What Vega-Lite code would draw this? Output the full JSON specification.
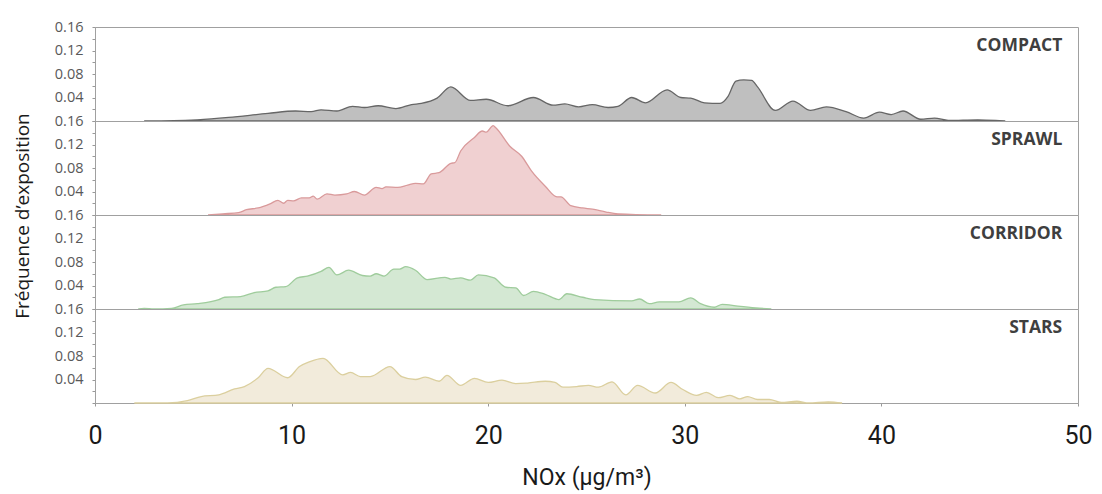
{
  "$schema": "https://vega.github.io/schema/vega-lite/v6.json",
  "padding": {"left": 13, "top": 19, "right": 5, "bottom": 5},
  "bounds": "flush",
  "background": "white",
  "datasets": {
    "d": [
      {"type":"COMPACT","nox":2.5,"freq":0},{"type":"COMPACT","nox":4.0,"freq":0.0005},{"type":"COMPACT","nox":5.2,"freq":0.002},{"type":"COMPACT","nox":6.8,"freq":0.006},{"type":"COMPACT","nox":8.8,"freq":0.013},{"type":"COMPACT","nox":10.2,"freq":0.017},{"type":"COMPACT","nox":11.0,"freq":0.016},{"type":"COMPACT","nox":11.5,"freq":0.019},{"type":"COMPACT","nox":12.3,"freq":0.017},{"type":"COMPACT","nox":13.1,"freq":0.025},{"type":"COMPACT","nox":13.7,"freq":0.023},{"type":"COMPACT","nox":14.4,"freq":0.026},{"type":"COMPACT","nox":15.3,"freq":0.021},{"type":"COMPACT","nox":16.1,"freq":0.028},{"type":"COMPACT","nox":16.6,"freq":0.030},{"type":"COMPACT","nox":17.4,"freq":0.039},{"type":"COMPACT","nox":18.1,"freq":0.058},{"type":"COMPACT","nox":19.1,"freq":0.035},{"type":"COMPACT","nox":19.9,"freq":0.037},{"type":"COMPACT","nox":21.0,"freq":0.026},{"type":"COMPACT","nox":22.3,"freq":0.040},{"type":"COMPACT","nox":23.3,"freq":0.027},{"type":"COMPACT","nox":23.9,"freq":0.029},{"type":"COMPACT","nox":24.6,"freq":0.024},{"type":"COMPACT","nox":25.3,"freq":0.028},{"type":"COMPACT","nox":26.1,"freq":0.023},{"type":"COMPACT","nox":26.6,"freq":0.025},{"type":"COMPACT","nox":27.3,"freq":0.040},{"type":"COMPACT","nox":28.0,"freq":0.031},{"type":"COMPACT","nox":29.1,"freq":0.053},{"type":"COMPACT","nox":29.8,"freq":0.040},{"type":"COMPACT","nox":30.3,"freq":0.039},{"type":"COMPACT","nox":31.0,"freq":0.031},{"type":"COMPACT","nox":31.8,"freq":0.030},{"type":"COMPACT","nox":32.2,"freq":0.042},{"type":"COMPACT","nox":32.6,"freq":0.068},{"type":"COMPACT","nox":33.0,"freq":0.070},{"type":"COMPACT","nox":33.4,"freq":0.069},{"type":"COMPACT","nox":33.7,"freq":0.058},{"type":"COMPACT","nox":34.6,"freq":0.018},{"type":"COMPACT","nox":35.5,"freq":0.034},{"type":"COMPACT","nox":36.4,"freq":0.018},{"type":"COMPACT","nox":37.2,"freq":0.024},{"type":"COMPACT","nox":38.2,"freq":0.016},{"type":"COMPACT","nox":39.1,"freq":0.005},{"type":"COMPACT","nox":39.9,"freq":0.015},{"type":"COMPACT","nox":40.5,"freq":0.011},{"type":"COMPACT","nox":41.1,"freq":0.017},{"type":"COMPACT","nox":42.0,"freq":0.003},{"type":"COMPACT","nox":42.7,"freq":0.005},{"type":"COMPACT","nox":43.4,"freq":0.001},{"type":"COMPACT","nox":44.9,"freq":0.002},{"type":"COMPACT","nox":45.8,"freq":0.001},{"type":"COMPACT","nox":46.3,"freq":0},
      {"type":"SPRAWL","nox":5.75,"freq":0},{"type":"SPRAWL","nox":6.5,"freq":0.002},{"type":"SPRAWL","nox":7.3,"freq":0.004},{"type":"SPRAWL","nox":7.7,"freq":0.009},{"type":"SPRAWL","nox":8.3,"freq":0.012},{"type":"SPRAWL","nox":8.9,"freq":0.019},{"type":"SPRAWL","nox":9.3,"freq":0.025},{"type":"SPRAWL","nox":9.6,"freq":0.020},{"type":"SPRAWL","nox":9.8,"freq":0.025},{"type":"SPRAWL","nox":10.1,"freq":0.024},{"type":"SPRAWL","nox":10.5,"freq":0.029},{"type":"SPRAWL","nox":10.9,"freq":0.029},{"type":"SPRAWL","nox":11.1,"freq":0.032},{"type":"SPRAWL","nox":11.3,"freq":0.027},{"type":"SPRAWL","nox":11.8,"freq":0.036},{"type":"SPRAWL","nox":12.2,"freq":0.034},{"type":"SPRAWL","nox":12.8,"freq":0.036},{"type":"SPRAWL","nox":13.2,"freq":0.040},{"type":"SPRAWL","nox":13.7,"freq":0.034},{"type":"SPRAWL","nox":14.3,"freq":0.047},{"type":"SPRAWL","nox":14.6,"freq":0.045},{"type":"SPRAWL","nox":14.8,"freq":0.048},{"type":"SPRAWL","nox":15.4,"freq":0.047},{"type":"SPRAWL","nox":15.9,"freq":0.051},{"type":"SPRAWL","nox":16.3,"freq":0.054},{"type":"SPRAWL","nox":16.7,"freq":0.053},{"type":"SPRAWL","nox":17.1,"freq":0.070},{"type":"SPRAWL","nox":17.5,"freq":0.072},{"type":"SPRAWL","nox":18.1,"freq":0.088},{"type":"SPRAWL","nox":18.3,"freq":0.089},{"type":"SPRAWL","nox":18.6,"freq":0.109},{"type":"SPRAWL","nox":19.3,"freq":0.132},{"type":"SPRAWL","nox":19.7,"freq":0.143},{"type":"SPRAWL","nox":19.9,"freq":0.141},{"type":"SPRAWL","nox":20.25,"freq":0.152},{"type":"SPRAWL","nox":20.4,"freq":0.148},{"type":"SPRAWL","nox":21.1,"freq":0.117},{"type":"SPRAWL","nox":21.7,"freq":0.100},{"type":"SPRAWL","nox":22.2,"freq":0.075},{"type":"SPRAWL","nox":22.9,"freq":0.049},{"type":"SPRAWL","nox":23.5,"freq":0.031},{"type":"SPRAWL","nox":23.7,"freq":0.031},{"type":"SPRAWL","nox":24.2,"freq":0.016},{"type":"SPRAWL","nox":24.8,"freq":0.012},{"type":"SPRAWL","nox":25.3,"freq":0.010},{"type":"SPRAWL","nox":26.0,"freq":0.005},{"type":"SPRAWL","nox":26.6,"freq":0.002},{"type":"SPRAWL","nox":28.8,"freq":0},
      {"type":"CORRIDOR","nox":2.2,"freq":0},{"type":"CORRIDOR","nox":2.5,"freq":0.001},{"type":"CORRIDOR","nox":3.0,"freq":0},{"type":"CORRIDOR","nox":3.9,"freq":0.001},{"type":"CORRIDOR","nox":4.5,"freq":0.007},{"type":"CORRIDOR","nox":5.2,"freq":0.009},{"type":"CORRIDOR","nox":6.3,"freq":0.016},{"type":"CORRIDOR","nox":6.6,"freq":0.020},{"type":"CORRIDOR","nox":7.4,"freq":0.021},{"type":"CORRIDOR","nox":8.1,"freq":0.028},{"type":"CORRIDOR","nox":8.8,"freq":0.031},{"type":"CORRIDOR","nox":9.2,"freq":0.037},{"type":"CORRIDOR","nox":9.7,"freq":0.038},{"type":"CORRIDOR","nox":10.3,"freq":0.053},{"type":"CORRIDOR","nox":10.8,"freq":0.056},{"type":"CORRIDOR","nox":11.5,"freq":0.064},{"type":"CORRIDOR","nox":11.9,"freq":0.071},{"type":"CORRIDOR","nox":12.3,"freq":0.058},{"type":"CORRIDOR","nox":12.9,"freq":0.066},{"type":"CORRIDOR","nox":13.6,"freq":0.057},{"type":"CORRIDOR","nox":14.0,"freq":0.056},{"type":"CORRIDOR","nox":14.3,"freq":0.060},{"type":"CORRIDOR","nox":14.7,"freq":0.056},{"type":"CORRIDOR","nox":15.2,"freq":0.068},{"type":"CORRIDOR","nox":15.5,"freq":0.068},{"type":"CORRIDOR","nox":15.8,"freq":0.072},{"type":"CORRIDOR","nox":16.3,"freq":0.066},{"type":"CORRIDOR","nox":16.9,"freq":0.050},{"type":"CORRIDOR","nox":17.8,"freq":0.054},{"type":"CORRIDOR","nox":18.1,"freq":0.051},{"type":"CORRIDOR","nox":18.6,"freq":0.053},{"type":"CORRIDOR","nox":19.1,"freq":0.049},{"type":"CORRIDOR","nox":19.5,"freq":0.058},{"type":"CORRIDOR","nox":20.3,"freq":0.053},{"type":"CORRIDOR","nox":20.9,"freq":0.037},{"type":"CORRIDOR","nox":21.4,"freq":0.036},{"type":"CORRIDOR","nox":21.8,"freq":0.023},{"type":"CORRIDOR","nox":22.3,"freq":0.030},{"type":"CORRIDOR","nox":22.9,"freq":0.025},{"type":"CORRIDOR","nox":23.6,"freq":0.016},{"type":"CORRIDOR","nox":24.0,"freq":0.026},{"type":"CORRIDOR","nox":24.8,"freq":0.020},{"type":"CORRIDOR","nox":25.4,"freq":0.016},{"type":"CORRIDOR","nox":27.3,"freq":0.014},{"type":"CORRIDOR","nox":27.7,"freq":0.017},{"type":"CORRIDOR","nox":28.2,"freq":0.009},{"type":"CORRIDOR","nox":28.7,"freq":0.012},{"type":"CORRIDOR","nox":29.7,"freq":0.012},{"type":"CORRIDOR","nox":30.3,"freq":0.019},{"type":"CORRIDOR","nox":30.8,"freq":0.009},{"type":"CORRIDOR","nox":31.5,"freq":0.003},{"type":"CORRIDOR","nox":31.9,"freq":0.008},{"type":"CORRIDOR","nox":32.7,"freq":0.005},{"type":"CORRIDOR","nox":33.6,"freq":0.002},{"type":"CORRIDOR","nox":34.4,"freq":0},
      {"type":"STARS","nox":2.0,"freq":0},{"type":"STARS","nox":3.7,"freq":0},{"type":"STARS","nox":4.7,"freq":0.004},{"type":"STARS","nox":5.4,"freq":0.011},{"type":"STARS","nox":6.3,"freq":0.014},{"type":"STARS","nox":7.1,"freq":0.024},{"type":"STARS","nox":7.6,"freq":0.028},{"type":"STARS","nox":8.3,"freq":0.043},{"type":"STARS","nox":8.8,"freq":0.059},{"type":"STARS","nox":9.8,"freq":0.043},{"type":"STARS","nox":10.4,"freq":0.062},{"type":"STARS","nox":10.9,"freq":0.070},{"type":"STARS","nox":11.6,"freq":0.076},{"type":"STARS","nox":12.6,"freq":0.048},{"type":"STARS","nox":13.0,"freq":0.052},{"type":"STARS","nox":13.5,"freq":0.045},{"type":"STARS","nox":14.0,"freq":0.045},{"type":"STARS","nox":15.0,"freq":0.062},{"type":"STARS","nox":15.6,"freq":0.045},{"type":"STARS","nox":16.3,"freq":0.040},{"type":"STARS","nox":16.8,"freq":0.044},{"type":"STARS","nox":17.5,"freq":0.037},{"type":"STARS","nox":17.9,"freq":0.047},{"type":"STARS","nox":18.6,"freq":0.030},{"type":"STARS","nox":19.3,"freq":0.042},{"type":"STARS","nox":20.0,"freq":0.035},{"type":"STARS","nox":20.7,"freq":0.039},{"type":"STARS","nox":21.4,"freq":0.033},{"type":"STARS","nox":22.0,"freq":0.034},{"type":"STARS","nox":22.9,"freq":0.037},{"type":"STARS","nox":23.4,"freq":0.035},{"type":"STARS","nox":23.8,"freq":0.027},{"type":"STARS","nox":24.5,"freq":0.028},{"type":"STARS","nox":25.1,"freq":0.030},{"type":"STARS","nox":25.6,"freq":0.027},{"type":"STARS","nox":26.3,"freq":0.036},{"type":"STARS","nox":27.0,"freq":0.014},{"type":"STARS","nox":27.6,"freq":0.030},{"type":"STARS","nox":28.5,"freq":0.017},{"type":"STARS","nox":29.3,"freq":0.035},{"type":"STARS","nox":29.9,"freq":0.023},{"type":"STARS","nox":30.6,"freq":0.013},{"type":"STARS","nox":31.1,"freq":0.018},{"type":"STARS","nox":31.7,"freq":0.009},{"type":"STARS","nox":32.3,"freq":0.013},{"type":"STARS","nox":32.8,"freq":0.007},{"type":"STARS","nox":33.2,"freq":0.011},{"type":"STARS","nox":33.7,"freq":0.006},{"type":"STARS","nox":34.3,"freq":0.006},{"type":"STARS","nox":34.9,"freq":0.001},{"type":"STARS","nox":35.7,"freq":0.003},{"type":"STARS","nox":36.3,"freq":0},{"type":"STARS","nox":37.3,"freq":0.002},{"type":"STARS","nox":38.0,"freq":0}
    ]
  },
  "data": {"name": "d"},
  "facet": {
    "row": {
      "field": "type",
      "type": "nominal",
      "sort": ["COMPACT", "SPRAWL", "CORRIDOR", "STARS"],
      "title": "Fréquence d’exposition",
      "header": {
        "labels": false,
        "titleFont": "Open Sans",
        "titleFontSize": 19,
        "titleFontWeight": "normal",
        "titleColor": "#1a1a1a",
        "titlePadding": 11
      }
    }
  },
  "spacing": {"row": 0},
  "spec": {
    "width": 983,
    "height": 94,
    "layer": [
      {
        "mark": {"type": "area", "interpolate": "monotone", "strokeWidth": 1.3, "fillOpacity": 1},
        "encoding": {
          "x": {
            "field": "nox",
            "type": "quantitative",
            "scale": {"domain": [0, 50], "nice": false},
            "axis": {
              "values": [0, 10, 20, 30, 40, 50],
              "tickCount": 20,
              "title": "NOx (µg/m³)",
              "titleFont": "Roboto",
              "titleFontSize": 23,
              "titleFontWeight": "normal",
              "titleColor": "#1a1a1a",
              "titlePadding": 18,
              "labelFont": "Roboto",
              "labelFontSize": 25,
              "labelColor": "#1a1a1a",
              "labelPadding": 17,
              "labelFlush": false,
              "tickSize": 3,
              "tickColor": "#999999",
              "domainColor": "#999999",
              "grid": false
            }
          },
          "y": {
            "field": "freq",
            "type": "quantitative",
            "scale": {"domain": [0, 0.16], "nice": false},
            "axis": {
              "values": [0, 0.02, 0.04, 0.06, 0.08, 0.1, 0.12, 0.14, 0.16],
              "tickCount": 20,
              "labelExpr": "(round(datum.value*100) % 4 == 0 && datum.value > 0) ? format(datum.value, '.2f') : ''",
              "labelOverlap": false,
              "title": null,
              "labelFont": "Open Sans",
              "labelFontSize": 14.5,
              "labelColor": "#595959",
              "labelPadding": 9,
              "tickSize": 3,
              "tickColor": "#999999",
              "domainColor": "#999999",
              "grid": false
            }
          },
          "fill": {
            "field": "type",
            "type": "nominal",
            "scale": {"domain": ["COMPACT", "SPRAWL", "CORRIDOR", "STARS"], "range": ["#bfbfbf", "#f0d0d1", "#d4e8d3", "#f2ebdb"]},
            "legend": null
          },
          "stroke": {
            "field": "type",
            "type": "nominal",
            "scale": {"domain": ["COMPACT", "SPRAWL", "CORRIDOR", "STARS"], "range": ["#666666", "#d99a9b", "#9fcc9c", "#dbcf9e"]},
            "legend": null
          }
        }
      },
      {
        "transform": [{"aggregate": [{"op": "count", "as": "n"}], "groupby": ["type"]}],
        "mark": {"type": "text", "align": "right", "baseline": "middle", "font": "Open Sans", "fontSize": 17.5, "fontWeight": "bold", "color": "#3f3f3f"},
        "encoding": {
          "x": {"datum": 49.2},
          "y": {"datum": 0.128},
          "text": {"field": "type", "type": "nominal"}
        }
      }
    ]
  },
  "config": {
    "view": {"stroke": "#a0a0a0", "strokeWidth": 1},
    "font": "Open Sans",
    "axis": {"labelOverlap": false}
  }
}
